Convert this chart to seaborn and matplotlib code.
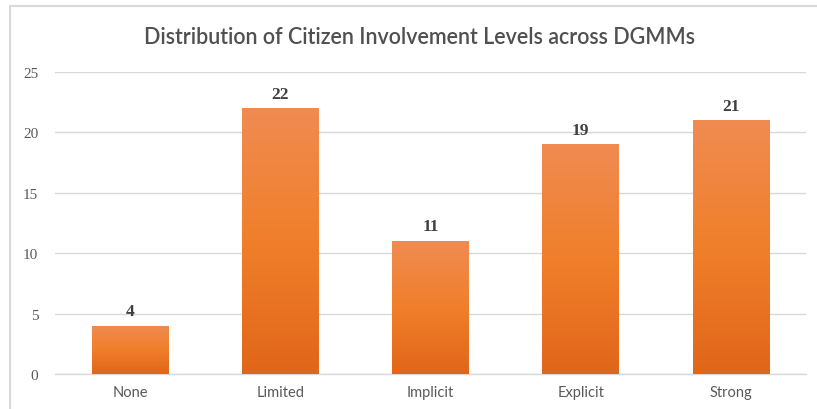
import numpy as np
import pandas as pd
import matplotlib
matplotlib.use("Agg")
import matplotlib.pyplot as plt
import seaborn as sns
from matplotlib.colors import LinearSegmentedColormap
from matplotlib.patches import Rectangle

categories = ["None", "Limited", "Implicit", "Explicit", "Strong"]
counts = [4, 22, 11, 19, 21]
yticks = [0, 5, 10, 15, 20, 25]

df = pd.DataFrame({"level": categories, "count": counts})

sns.set_theme(style="white")
plt.rcParams['font.family'] = ['Lato', 'DejaVu Sans']

fig = plt.figure(figsize=(8.17, 4.10), dpi=100)
ax = fig.add_axes([55/817, 1-375/410, (806-55)/817, (375-73)/410])

sns.barplot(data=df, x="level", y="count", color="#F07F2A", width=0.51, ax=ax,
            saturation=1, edgecolor="none", zorder=2)

ax.set_ylim(0, 25)
ax.set_xlim(-0.5, len(categories) - 0.5)
ax.set_yticks(yticks)
ax.set_yticklabels([str(t) for t in yticks], family=['Liberation Serif'], fontsize=11, color="#595959")
ax.set_xticks(range(len(categories)))
ax.set_xticklabels(categories, fontsize=10.5, color="#595959")
ax.tick_params(axis='both', length=0)
ax.tick_params(axis='y', pad=12)
ax.tick_params(axis='x', pad=8)
ax.set_xlabel("")
ax.set_ylabel("")
ax.grid(axis='y', color="#D9D9D9", linewidth=1, zorder=0)
for s in ["top", "right", "left"]:
    ax.spines[s].set_visible(False)
ax.spines["bottom"].set_color("#D9D9D9")
ax.spines["bottom"].set_linewidth(1)

# gradient fill clipped to each bar
cmap = LinearSegmentedColormap.from_list("og", ["#E0661A", "#F07F2A", "#EF8B52"])
grad = np.linspace(0, 1, 256).reshape(-1, 1)
for bar in ax.patches:
    x0, y0 = bar.get_x(), bar.get_y()
    w, h = bar.get_width(), bar.get_height()
    im = ax.imshow(grad, extent=[x0, x0 + w, y0, y0 + h], origin="lower",
                   cmap=cmap, aspect="auto", zorder=3)
    im.set_clip_path(bar)
    ax.text(x0 + w/2, y0 + h + 0.55, f"{int(h)}", ha="center", va="bottom",
            family=['Liberation Serif'], fontweight="bold", fontsize=12.5, color="#404040", zorder=4)
ax.set_xlim(-0.5, len(categories) - 0.5)
ax.set_ylim(0, 25)

fig.text(420/817, 1-37/410, "Distribution of Citizen Involvement Levels across DGMMs",
         ha="center", va="center", fontsize=15.5, color="#505050", fontweight="semibold")

fig.patches.append(Rectangle((10/817, -0.05), 1.2, 1 - 7/410 + 0.05, transform=fig.transFigure,
                             fill=False, edgecolor="#D9D9D9", linewidth=1.5, zorder=0))

fig.savefig("out.png", dpi=100, facecolor="white")
